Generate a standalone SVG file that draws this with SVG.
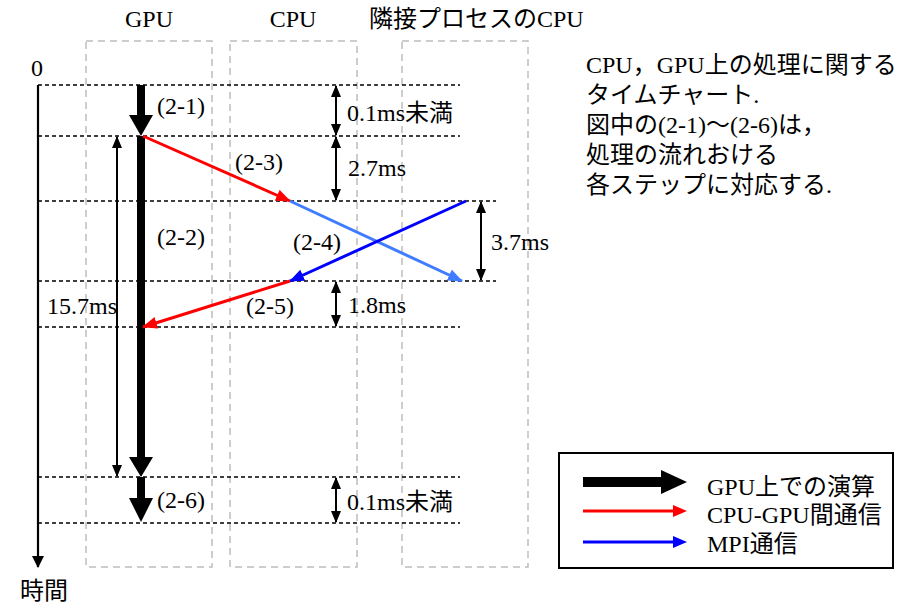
<svg xmlns="http://www.w3.org/2000/svg" width="905" height="603" viewBox="0 0 905 603">
<style>
  text { font-family: "Liberation Serif", "Noto Sans CJK JP", serif; font-size: 24px; fill: #000; }
  .para { font-size: 24px; }
  .lane { fill: none; stroke: #bdbdbd; stroke-width: 1.5; stroke-dasharray: 7 5; }
  .grid { stroke: #000; stroke-width: 1.3; stroke-dasharray: 4 3; fill: none; }
  .dim { stroke: #000; stroke-width: 2; fill: none; marker-start: url(#dimHead); marker-end: url(#dimHead); }
  .red { stroke: #ff0000; stroke-width: 3; fill: none; marker-end: url(#redHead); }
  .blue { stroke: #0000ff; stroke-width: 3; fill: none; marker-end: url(#blueHead); }
  .lblue { stroke: #3f7cff; stroke-width: 3; fill: none; marker-end: url(#lblueHead); }
</style>
<defs>
  <marker id="dimHead" markerUnits="userSpaceOnUse" markerWidth="12" markerHeight="10" refX="11" refY="5" orient="auto-start-reverse" viewBox="0 0 12 10">
    <path d="M0,0 L12,5 L0,10 Z" fill="#000"/>
  </marker>
  <marker id="redHead" markerUnits="userSpaceOnUse" markerWidth="15" markerHeight="12" refX="14" refY="6" orient="auto" viewBox="0 0 15 12">
    <path d="M0,0 L15,6 L0,12 Z" fill="#ff0000"/>
  </marker>
  <marker id="blueHead" markerUnits="userSpaceOnUse" markerWidth="15" markerHeight="12" refX="14" refY="6" orient="auto" viewBox="0 0 15 12">
    <path d="M0,0 L15,6 L0,12 Z" fill="#0000ff"/>
  </marker>
  <marker id="lblueHead" markerUnits="userSpaceOnUse" markerWidth="15" markerHeight="12" refX="14" refY="6" orient="auto" viewBox="0 0 15 12">
    <path d="M0,0 L15,6 L0,12 Z" fill="#3f7cff"/>
  </marker>
  <marker id="axisHead" markerUnits="userSpaceOnUse" markerWidth="12" markerHeight="12" refX="11" refY="6" orient="auto" viewBox="0 0 12 12">
    <path d="M0,0 L12,6 L0,12 Z" fill="#000"/>
  </marker>
</defs>

<!-- lane headers and boxes -->
<g id="lane-gpu">
  <rect class="lane" x="86" y="41" width="126" height="526"/>
  <text x="149" y="27" text-anchor="middle">GPU</text>
</g>
<g id="lane-cpu">
  <rect class="lane" x="230" y="41" width="127" height="526"/>
  <text x="293" y="27" text-anchor="middle">CPU</text>
</g>
<g id="lane-neighbor">
  <rect class="lane" x="402" y="41" width="126" height="526"/>
  <text x="369" y="27">隣接プロセスのCPU</text>
</g>

<!-- time grid -->
<g id="grid">
  <line class="grid" x1="38" y1="85" x2="460" y2="85"/>
  <line class="grid" x1="38" y1="136" x2="460" y2="136"/>
  <line class="grid" x1="38" y1="201" x2="496" y2="201"/>
  <line class="grid" x1="38" y1="281" x2="496" y2="281"/>
  <line class="grid" x1="38" y1="327" x2="460" y2="327"/>
  <line class="grid" x1="38" y1="477" x2="460" y2="477"/>
  <line class="grid" x1="38" y1="523" x2="460" y2="523"/>
</g>

<!-- time axis -->
<g id="time-axis">
  <line x1="38" y1="85" x2="38" y2="567" stroke="#000" stroke-width="2.2" marker-end="url(#axisHead)"/>
  <text x="37" y="76" text-anchor="middle">0</text>
  <text x="20" y="599">時間</text>
</g>

<!-- GPU compute arrows -->
<g id="gpu-compute">
  <rect x="137" y="85" width="8" height="32"/>
  <polygon points="129,115 153,115 141,136"/>
  <rect x="137" y="136" width="8" height="323"/>
  <polygon points="129,457 153,457 141,477"/>
  <rect x="137" y="477" width="8" height="23"/>
  <polygon points="129,498 153,498 141,522"/>
  <text x="157" y="114">(2-1)</text>
  <text x="157" y="245">(2-2)</text>
  <text x="157" y="508">(2-6)</text>
</g>

<!-- connectors -->
<g id="connectors">
  <line class="red" x1="143" y1="136" x2="290" y2="201"/>
  <line class="lblue" x1="290" y1="201" x2="462" y2="281"/>
  <line class="blue" x1="466" y1="201" x2="290" y2="281"/>
  <line class="red" x1="290" y1="281" x2="143" y2="327"/>
  <text x="235" y="170">(2-3)</text>
  <text x="293" y="250">(2-4)</text>
  <text x="246" y="314">(2-5)</text>
</g>

<!-- durations -->
<g id="durations">
  <line class="dim" x1="117" y1="137" x2="117" y2="476"/>
  <text x="47" y="314">15.7ms</text>
  <line class="dim" x1="336" y1="86" x2="336" y2="135"/>
  <text x="347" y="121">0.1ms未満</text>
  <line class="dim" x1="336" y1="137" x2="336" y2="200"/>
  <text x="348" y="176">2.7ms</text>
  <line class="dim" x1="481" y1="202" x2="481" y2="280"/>
  <text x="491" y="250">3.7ms</text>
  <line class="dim" x1="336" y1="282" x2="336" y2="326"/>
  <text x="348" y="313">1.8ms</text>
  <line class="dim" x1="336" y1="478" x2="336" y2="522"/>
  <text x="347" y="510">0.1ms未満</text>
</g>

<!-- description -->
<g id="description">
  <text class="para" x="586" y="73">CPU，GPU上の処理に関する</text>
  <text class="para" x="586" y="103">タイムチャート.</text>
  <text class="para" x="586" y="133">図中の(2-1)～(2-6)は，</text>
  <text class="para" x="586" y="163">処理の流れおける</text>
  <text class="para" x="586" y="193">各ステップに対応する.</text>
</g>

<!-- legend -->
<g id="legend">
  <rect x="559" y="453" width="334" height="115" fill="none" stroke="#000" stroke-width="2"/>
  <rect x="583" y="477" width="80" height="10" fill="#000"/>
  <polygon points="661,470 687,482 661,494" fill="#000"/>
  <line x1="583" y1="511" x2="676" y2="511" stroke="#ff0000" stroke-width="3"/>
  <polygon points="673,505 687,511 673,517" fill="#ff0000"/>
  <line x1="583" y1="542" x2="676" y2="542" stroke="#0000ff" stroke-width="3"/>
  <polygon points="673,536 687,542 673,548" fill="#0000ff"/>
  <text x="707" y="495">GPU上での演算</text>
  <text x="707" y="523">CPU-GPU間通信</text>
  <text x="707" y="552">MPI通信</text>
</g>
</svg>
